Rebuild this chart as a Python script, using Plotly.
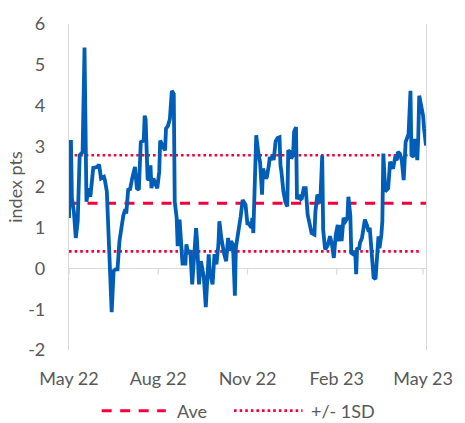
import plotly.graph_objects as go

# Daily index spread, May 2022 - May 2023 (index points)
dates = [
    "2022-05-01", "2022-05-03", "2022-05-04", "2022-05-06", "2022-05-08", "2022-05-10",
    "2022-05-12", "2022-05-15", "2022-05-17", "2022-05-19", "2022-05-21", "2022-05-23",
    "2022-05-26", "2022-05-30", "2022-06-01", "2022-06-03", "2022-06-06", "2022-06-07",
    "2022-06-09", "2022-06-11", "2022-06-13", "2022-06-14", "2022-06-16", "2022-06-18",
    "2022-06-20", "2022-06-22", "2022-06-24", "2022-06-26", "2022-06-28", "2022-06-29",
    "2022-07-01", "2022-07-03", "2022-07-05", "2022-07-08", "2022-07-10", "2022-07-12",
    "2022-07-14", "2022-07-17", "2022-07-18", "2022-07-19", "2022-07-21", "2022-07-22",
    "2022-07-24", "2022-07-25", "2022-07-27", "2022-07-29", "2022-07-31", "2022-08-02",
    "2022-08-03", "2022-08-06", "2022-08-08", "2022-08-09", "2022-08-11", "2022-08-13",
    "2022-08-15", "2022-08-17", "2022-08-18", "2022-08-20", "2022-08-21", "2022-08-23",
    "2022-08-25", "2022-08-26", "2022-08-29", "2022-08-30", "2022-09-01", "2022-09-03",
    "2022-09-05", "2022-09-07", "2022-09-09", "2022-09-10", "2022-09-12", "2022-09-14",
    "2022-09-16", "2022-09-17", "2022-09-19", "2022-09-22", "2022-09-23", "2022-09-25",
    "2022-09-26", "2022-09-28", "2022-09-30", "2022-10-02", "2022-10-03", "2022-10-05",
    "2022-10-07", "2022-10-08", "2022-10-10", "2022-10-12", "2022-10-13", "2022-10-15",
    "2022-10-17", "2022-10-19", "2022-10-20", "2022-10-23", "2022-10-25", "2022-10-27",
    "2022-10-30", "2022-11-01", "2022-11-02", "2022-11-05", "2022-11-06", "2022-11-07",
    "2022-11-10", "2022-11-12", "2022-11-14", "2022-11-16", "2022-11-17", "2022-11-20",
    "2022-11-21", "2022-11-23", "2022-11-24", "2022-11-25", "2022-11-27", "2022-11-28",
    "2022-11-30", "2022-12-02", "2022-12-04", "2022-12-05", "2022-12-06", "2022-12-08",
    "2022-12-10", "2022-12-12", "2022-12-13", "2022-12-15", "2022-12-16", "2022-12-18",
    "2022-12-19", "2022-12-21", "2022-12-22", "2022-12-24", "2022-12-26", "2022-12-27",
    "2022-12-29", "2022-12-31", "2023-01-02", "2023-01-04", "2023-01-06", "2023-01-09",
    "2023-01-10", "2023-01-12", "2023-01-14", "2023-01-15", "2023-01-17", "2023-01-18",
    "2023-01-20", "2023-01-21", "2023-01-23", "2023-01-25", "2023-01-27", "2023-01-29",
    "2023-01-31", "2023-02-02", "2023-02-03", "2023-02-05", "2023-02-06", "2023-02-08",
    "2023-02-10", "2023-02-12", "2023-02-13", "2023-02-15", "2023-02-16", "2023-02-18",
    "2023-02-20", "2023-02-21", "2023-02-22", "2023-02-24", "2023-02-25", "2023-02-27",
    "2023-03-01", "2023-03-02", "2023-03-04", "2023-03-06", "2023-03-07", "2023-03-09",
    "2023-03-10", "2023-03-11", "2023-03-13", "2023-03-15", "2023-03-16", "2023-03-17",
    "2023-03-19", "2023-03-20", "2023-03-21", "2023-03-23", "2023-03-25", "2023-03-26",
    "2023-03-28", "2023-03-30", "2023-03-31", "2023-04-02", "2023-04-04", "2023-04-05",
    "2023-04-07", "2023-04-09", "2023-04-10", "2023-04-11", "2023-04-13", "2023-04-15",
    "2023-04-16", "2023-04-18", "2023-04-19", "2023-04-21", "2023-04-22", "2023-04-24",
    "2023-04-25", "2023-04-26", "2023-04-27", "2023-04-29", "2023-05-01", "2023-05-02",
    "2023-05-04",
]
values = [
    1.24, 3.15, 1.72, 1.40, 0.75, 1.16,
    2.78, 2.86, 5.42, 1.64, 1.97, 1.76,
    2.47, 2.49, 2.55, 2.21, 2.25, 2.17,
    1.89, 0.75, -0.71, -1.07, -0.06, -0.02,
    -0.02, 0.67, 0.99, 1.30, 1.45, 1.35,
    1.93, 1.95, 2.20, 2.49, 1.97, 1.93,
    3.10, 3.14, 3.75, 3.66, 2.21, 2.17,
    2.53, 1.97, 2.21, 2.05, 1.97, 2.37,
    3.14, 2.98, 2.90, 3.43, 3.50, 3.67,
    4.36, 4.28, 1.64, 1.24, 0.55, 1.20,
    0.43, 0.12, 0.12, 0.59, 0.35, 0.45,
    -0.39, 0.50, 0.99, 0.67, -0.39, 0.18,
    -0.06, -0.22, -0.95, 0.35, -0.06, -0.30,
    -0.39, 0.35, 0.10, 0.59, 1.16, 0.75,
    0.39, 0.35, 0.18, 0.75, 0.43, 0.67,
    0.59, -0.67, 0.51, 0.91, 1.28, 1.68,
    1.56, 1.07, 1.11, 1.00, 1.24, 0.87,
    3.27, 2.86, 2.60, 1.81, 2.45, 2.21,
    2.25, 2.53, 2.74, 2.66, 2.78, 2.66,
    3.12, 3.20, 3.22, 2.53, 2.37, 1.89,
    1.64, 1.52, 2.90, 2.86, 2.70, 2.78,
    3.35, 3.47, 1.70, 1.80, 1.70, 1.72,
    1.97, 1.97, 1.32, 1.10, 0.87, 0.83,
    1.40, 1.81, 1.72, 1.60, 2.78, 0.95,
    0.47, 0.50, 0.59, 0.79, 0.60, 0.26,
    0.83, 1.07, 0.67, 1.07, 0.67, 1.24,
    1.16, 1.24, 1.76, 1.30, 0.38, 0.35,
    0.43, -0.14, 0.51, 0.47, 0.63, 0.75,
    1.07, 1.20, 1.07, 0.90, 1.00, 0.26,
    -0.06, -0.22, -0.26, 0.45, 0.79, 0.50,
    0.83, 1.16, 2.82, 1.89, 1.93, 1.97,
    2.62, 2.53, 2.45, 2.70, 2.66, 2.86,
    2.82, 2.66, 2.37, 2.17, 3.10, 3.22,
    3.30, 4.36, 2.78, 2.74, 3.14, 3.14,
    2.66, 3.20, 4.24, 4.00, 3.75, 3.43,
    3.02,
]

average = 1.6
std_dev = 1.18

tick_dates = ["2022-05-01", "2022-08-01", "2022-11-01", "2023-02-01", "2023-05-01"]
tick_labels = ["May 22", "Aug 22", "Nov 22", "Feb 23", "May 23"]
y_ticks = [-2, -1, 0, 1, 2, 3, 4, 5, 6]
y_tick_labels = ["-2", "-1", "0", "1", "2", "3", "4", "5", "6"]

BLUE = "#005EB8"
RED = "#F5003C"
GREY = "#D9D9D9"
TEXT = "#595959"
FONT = "Lato"
SIZE = 18

band_x = [dates[0], "2023-04-29"]

fig = go.Figure()
fig.add_trace(go.Scatter(
    x=[dates[0], dates[-1]], y=[average, average], mode="lines",
    line=dict(color=RED, width=3, dash="10px,8.5px"), name="Ave", showlegend=False,
))
fig.add_trace(go.Scatter(
    x=band_x, y=[average + std_dev] * 2, mode="lines",
    line=dict(color=RED, width=2.6, dash="2.6px,3px"), name="+/- 1SD", showlegend=False,
))
fig.add_trace(go.Scatter(
    x=band_x, y=[average - std_dev] * 2, mode="lines",
    line=dict(color=RED, width=2.6, dash="2.6px,3px"), showlegend=False,
))
fig.add_trace(go.Scatter(
    x=dates, y=values, mode="lines",
    line=dict(color=BLUE, width=3.8), showlegend=False,
))

# small tick marks hanging below the zero line
for d in tick_dates:
    fig.add_shape(type="line", xref="x", yref="y", x0=d, x1=d,
                  ysizemode="pixel", yanchor=0, y0=0, y1=-6,
                  line=dict(color=GREY, width=1.2), layer="below")

# hand-drawn legend row under the axis labels
legend_y = -0.186
fig.add_shape(type="line", xref="paper", yref="paper", x0=0.0915, x1=0.2712,
              y0=legend_y, y1=legend_y, line=dict(color=RED, width=3, dash="10px,8.5px"))
fig.add_shape(type="line", xref="paper", yref="paper", x0=0.4622, x1=0.654,
              y0=legend_y, y1=legend_y, line=dict(color=RED, width=2.6, dash="2.6px,3px"))
fig.add_annotation(text="Ave", xref="paper", yref="paper", x=0.2978, y=legend_y,
                   xanchor="left", yanchor="middle", showarrow=False,
                   font=dict(family=FONT, size=SIZE, color=TEXT))
fig.add_annotation(text="+/- 1SD", xref="paper", yref="paper", x=0.6732, y=legend_y,
                   xanchor="left", yanchor="middle", showarrow=False,
                   font=dict(family=FONT, size=SIZE, color=TEXT))

fig.update_layout(
    width=465, height=423,
    margin=dict(l=69, r=31, t=21, b=73),
    paper_bgcolor="white", plot_bgcolor="white",
    font=dict(family=FONT, size=SIZE, color=TEXT),
    showlegend=False,
    xaxis=dict(
        type="date", range=["2022-05-01", "2023-05-04"],
        tickvals=tick_dates, ticktext=tick_labels,
        showgrid=False, zeroline=False, showline=False, ticks="",
        ticklabelstandoff=16,
        tickfont=dict(family=FONT, size=SIZE, color=TEXT),
    ),
    yaxis=dict(
        range=[-2, 6], tickvals=y_ticks, ticktext=y_tick_labels,
        showgrid=False, zeroline=True, zerolinecolor=GREY, zerolinewidth=1.2,
        showline=True, linecolor=GREY, linewidth=1.2, mirror=True, ticks="",
        ticklabelstandoff=19,
        tickfont=dict(family=FONT, size=SIZE, color=TEXT),
        title=dict(text="index pts", standoff=0,
                   font=dict(family=FONT, size=SIZE, color=TEXT)),
    ),
)

fig.write_html("out.html")
